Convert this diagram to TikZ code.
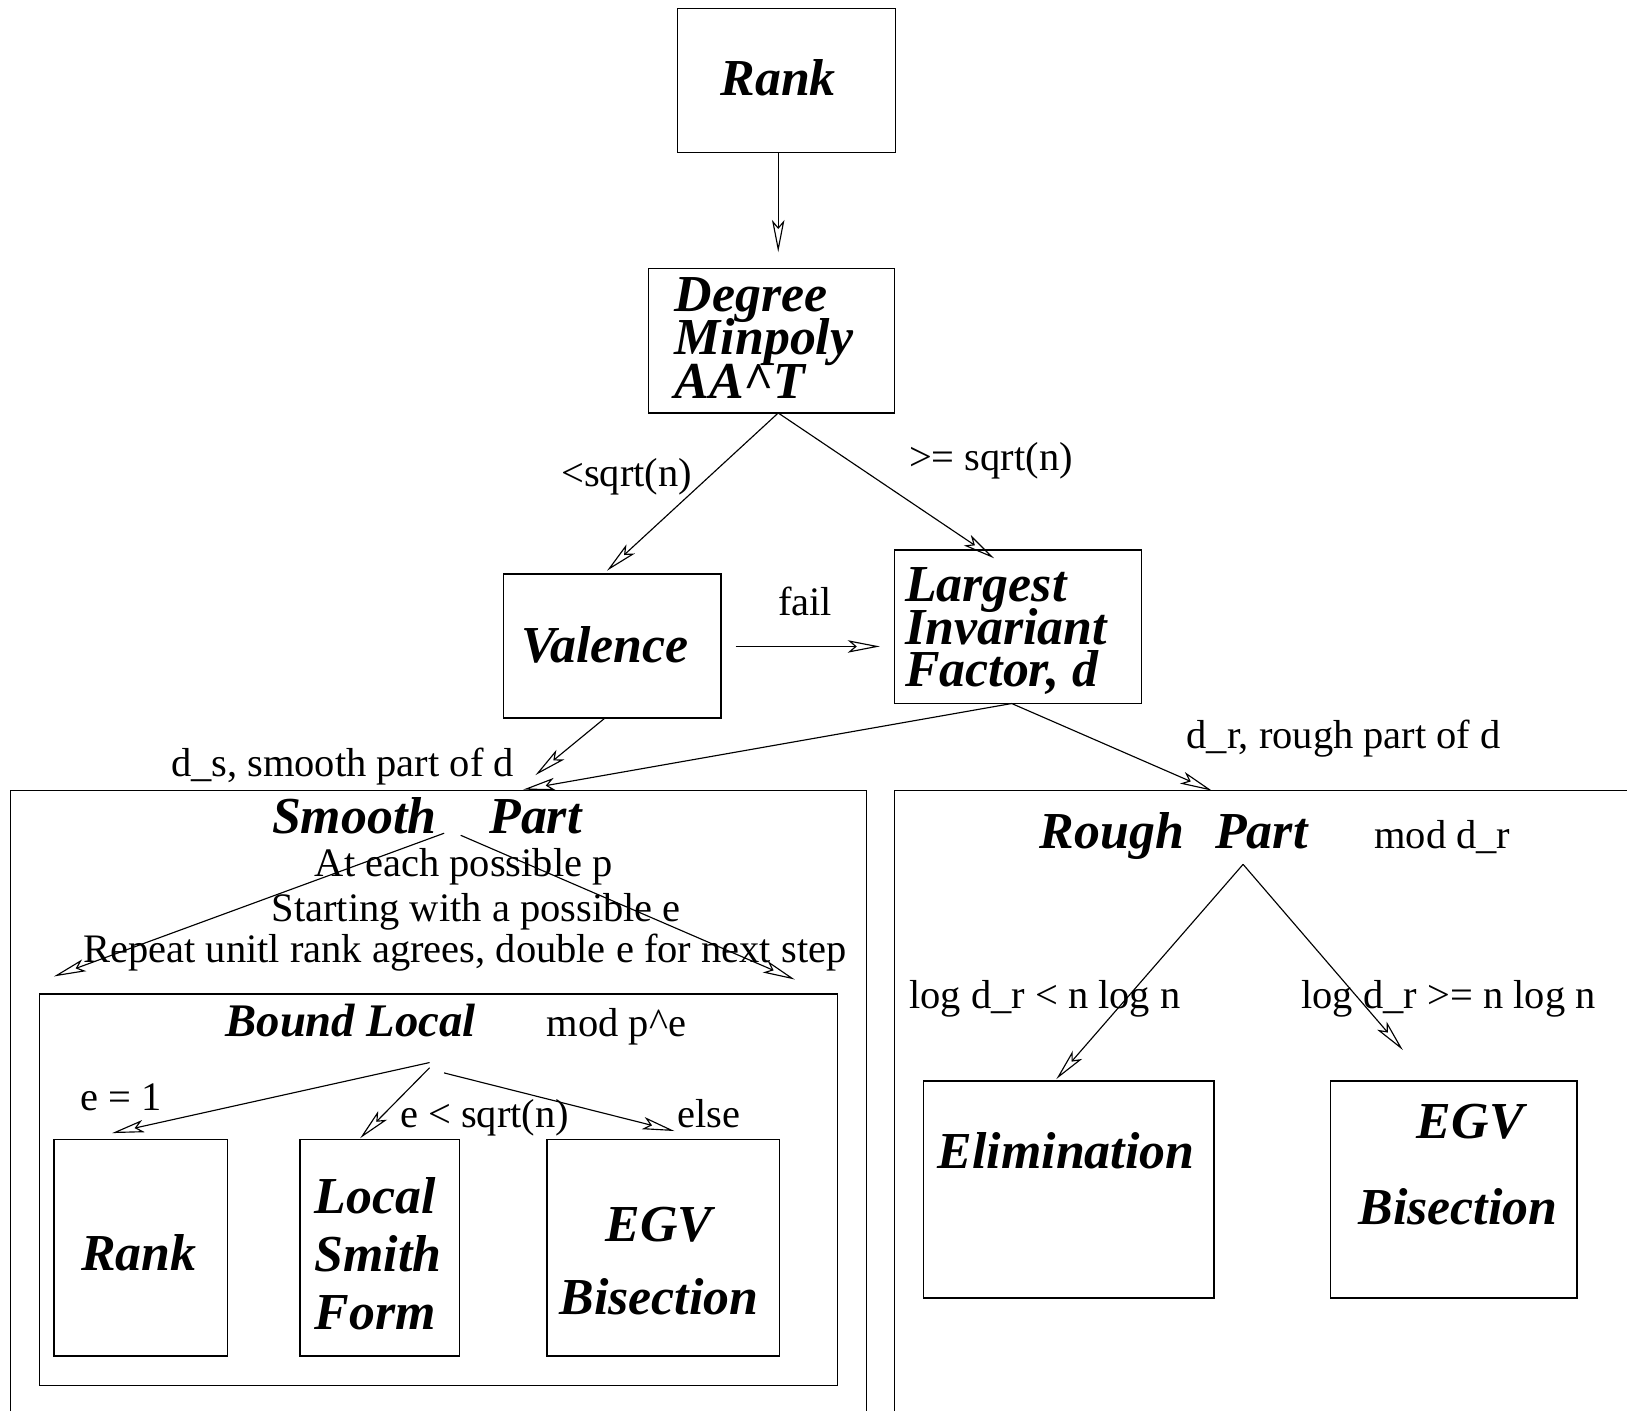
\documentclass[tikz,border=0pt]{standalone}
\usepackage{fontspec}
\setmainfont{Liberation Serif}
\usetikzlibrary{arrows.meta}
\newcommand\bix{\fontsize{50}{42}\selectfont\bfseries\itshape\lineskiplimit=-100pt\relax}
\newcommand\rmx{\fontsize{39}{42}\selectfont}
\begin{document}
\begin{tikzpicture}[x=1pt,y=-1pt,
  box/.style={draw, line width=1.4pt, inner sep=0pt, outer sep=0pt},
  frame/.style={line width=1.4pt},
  conn/.style={line width=1.1pt, -{Stealth[open, length=31pt, width=12pt, inset=7pt, line width=1.1pt]}},
  lbl/.style={inner sep=0pt, anchor=base, font=\rmx},
  ttl/.style={inner sep=0pt, anchor=base, font=\bix},
]
\useasboundingbox (0,0) rectangle (1568,1360);

% boxes
\node[box, minimum width=210pt, minimum height=139pt] (rankbox) at (758,77.5) {};
\node[box, minimum width=237pt, minimum height=139pt] (degbox) at (743.5,328.5) {};
\node[box, minimum width=210pt, minimum height=139pt] (valbox) at (590,622.5) {};
\node[box, minimum width=238pt, minimum height=148pt] (lifbox) at (981,604) {};
\draw[frame] (10,1360) -- (10,762) -- (835,762) -- (835,1360);
\draw[frame] (862,1360) -- (862,762) -- (1568,762);
\node[box, minimum width=769pt, minimum height=377pt] (blbox) at (422.5,1146.5) {};
\node[box, minimum width=167pt, minimum height=209pt] (rk2box) at (135.5,1202.5) {};
\node[box, minimum width=154pt, minimum height=209pt] (lsfbox) at (366,1202.5) {};
\node[box, minimum width=224pt, minimum height=209pt] (egvbox) at (639,1202.5) {};
\node[box, minimum width=280pt, minimum height=209pt] (elimbox) at (1030,1146.5) {};
\node[box, minimum width=238pt, minimum height=209pt] (egv2box) at (1401,1146.5) {};

% titles (multi-line nodes: base = baseline of last line)
\node[ttl] (rankt) at (750,92) {Rank};
\node[ttl, anchor=base west, align=left] (degt) at (650,384) {Degree\\Minpoly\\AA\textasciicircum T};
\node[ttl] (valt) at (583,638) {Valence};
\node[ttl, anchor=base west, align=left, font=\bix\fontsize{50}{41}\selectfont] (lift) at (872,662) {Largest\\Invariant\\Factor, d};
\node[ttl, anchor=base west] (smootht) at (262,803) {Smooth\hspace{51pt}Part};
\node[ttl, anchor=base west] (rought) at (1002,818) {Rough\hspace{30pt}Part};
\node[ttl, font=\bix\fontsize{45}{42}\selectfont] (boundt) at (338,999) {Bound Local};
\node[ttl] (rank2t) at (134,1224.5) {Rank};
\node[ttl, anchor=base west, align=left, font=\bix\fontsize{50}{56}\selectfont] (lsft) at (303,1281.5) {Local\\Smith\\Form};
\node[ttl, align=center, font=\bix\fontsize{50}{70}\selectfont] (egvt) at (635,1266.5) {EGV\\Bisection};
\node[ttl] (elimt) at (1027.5,1126) {Elimination};
\node[ttl, align=center, font=\bix\fontsize{50}{82.5}\selectfont] (egv2t) at (1405,1180) {\hspace*{24pt}EGV\\Bisection};

% labels
\node[lbl] (l1) at (604,469) {<sqrt(n)};
\node[lbl] (l2) at (955,453) {>= sqrt(n)};
\node[lbl] (l3) at (776,593) {fail};
\node[lbl] (l4) at (330,748) {d\_s, smooth part of d};
\node[lbl] (l5) at (1295,721) {d\_r, rough part of d};
\node[lbl] (l6) at (447,845) {At each possible p};
\node[lbl] (l7) at (459,888) {Starting with a possible e};
\node[lbl] (l8) at (448,928) {Repeat unitl rank agrees, double e for next step};
\node[lbl] (l9) at (594,999) {mod p\textasciicircum e};
\node[lbl] (l10) at (116.5,1070) {e = 1};
\node[lbl] (l11) at (467,1087) {e < sqrt(n)};
\node[lbl] (l12) at (683,1087) {else};
\node[lbl] (l13) at (1390,818) {mod d\_r};
\node[lbl] (l14) at (1007,972) {log d\_r < n log n};
\node[lbl] (l15) at (1396,972) {log d\_r >= n log n};

% connector end points
\coordinate (rkS) at (750,147);
\coordinate (dgN) at (750,243);
\coordinate (dgS) at (750,398);
\coordinate (vaN) at (585,550);
\coordinate (liN) at (958,538);
\coordinate (vaE) at (709,623);
\coordinate (liW) at (848,623);
\coordinate (vaS) at (583,692);
\coordinate (spN1) at (516,747);
\coordinate (liS) at (975,678);
\coordinate (spN2) at (504,761);
\coordinate (rpN) at (1168,762);
\coordinate (spA) at (428,803);
\coordinate (spB) at (444,805);
\coordinate (blW) at (52,941);
\coordinate (blE) at (766,944);
\coordinate (blA) at (414,1024);
\coordinate (blB) at (414,1029);
\coordinate (blC) at (428,1034);
\coordinate (rk2N) at (108,1092);
\coordinate (lsN) at (347,1097);
\coordinate (egN) at (650,1090);
\coordinate (rpA) at (1198,833);
\coordinate (elN) at (1018,1040);
\coordinate (eg2N) at (1352,1012);

% connectors
\draw[conn] (rkS) -- (dgN);
\draw[conn] (dgS) -- (vaN);
\draw[conn] (dgS) -- (liN);
\draw[conn] (vaE) -- (liW);
\draw[conn] (vaS) -- (spN1);
\draw[conn] (liS) -- (spN2);
\draw[conn] (liS) -- (rpN);
\draw[conn] (spA) -- (blW);
\draw[conn] (spB) -- (blE);
\draw[conn] (blA) -- (rk2N);
\draw[conn] (blB) -- (lsN);
\draw[conn] (blC) -- (egN);
\draw[conn] (rpA) -- (elN);
\draw[conn] (rpA) -- (eg2N);
\end{tikzpicture}
\end{document}
